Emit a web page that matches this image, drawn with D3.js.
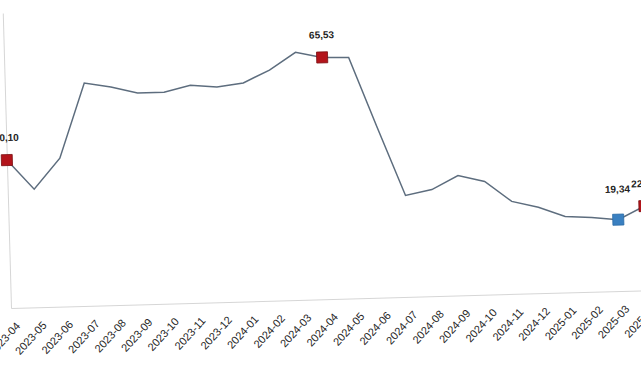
<html>
<head>
<meta charset="utf-8">
<script src="https://d3js.org/d3.v7.min.js"></script>
<style>
  body { margin: 0; background: #fff; }
  .tick text { font-family: "Liberation Sans", Arial, sans-serif; font-size: 11px; fill: #262626; }
  .val { font-family: "Liberation Sans", Arial, sans-serif; font-size: 10px; font-weight: bold; fill: #222; }
</style>
</head>
<body>
<svg class="chart" width="641" height="380"></svg>
<script>
// monthly values
var months = ["2023-04","2023-05","2023-06","2023-07","2023-08","2023-09","2023-10","2023-11","2023-12",
              "2024-01","2024-02","2024-03","2024-04","2024-05","2024-06","2024-07","2024-08","2024-09",
              "2024-10","2024-11","2024-12","2025-01","2025-02","2025-03","2025-04"];
var values = [40.10, 32.0, 40.2, 60.4, 59.1, 57.3, 57.3, 59.0, 58.3,
              59.2, 62.5, 67.1, 65.53, 65.3, 46.2, 27.5, 28.9, 32.5,
              30.7, 25.1, 23.3, 20.6, 20.1, 19.34, 22.83];
// labelled points
var markMonths = ["2023-04", "2024-04", "2025-03", "2025-04"];
var markKinds  = ["high", "high", "low", "high"];
var markLabels = ["40,10", "65,53", "19,34", "22,83"];

var markStyle = {
  high: {fill: "#b3141b", stroke: "#7a0d10", lift: 19},
  low:  {fill: "#3a80c1", stroke: "#2a6aa6", lift: 27}
};

var data = months.map(function(m, i) { return {month: m, value: values[i]}; });

var x = d3.scalePoint().domain(months).range([0, 636]);
var y = d3.scaleLinear().domain([0, 80]).range([308, 12.8]);

// the whole plot sits a little tilted, like the source
var g = d3.select(".chart")
  .append("g")
  .attr("transform", "rotate(-1.6, 11, 308) translate(11,0)");

// y axis: only the line
g.append("g")
  .call(d3.axisLeft(y).ticks(0).tickSize(0).tickSizeOuter(0))
  .select(".domain").attr("stroke", "#d6d6d6");

// x axis
var xa = g.append("g")
  .attr("transform", "translate(0,308)")
  .call(d3.axisBottom(x).tickSize(0).tickSizeOuter(0));
xa.select(".domain").attr("stroke", "#d6d6d6");
xa.selectAll("text")
  .attr("x", 0).attr("y", 0).attr("dy", "0.35em")
  .attr("text-anchor", "end")
  .attr("transform", "translate(6,16) rotate(-46)");

// line
g.append("path")
  .datum(data)
  .attr("fill", "none")
  .attr("stroke", "#5d6d7e")
  .attr("stroke-width", 1.5)
  .attr("d", d3.line()
    .x(function(d) { return x(d.month); })
    .y(function(d) { return y(d.value); }));

// markers + labels
var marks = markMonths.map(function(m, i) {
  return {month: m, value: values[months.indexOf(m)], kind: markKinds[i], label: markLabels[i]};
});

g.selectAll(".mk").data(marks).enter()
  .append("rect")
    .attr("class", "mk")
    .attr("x", function(d) { return x(d.month) - 5.5; })
    .attr("y", function(d) { return y(d.value) - 5.5; })
    .attr("width", 11).attr("height", 11)
    .attr("fill", function(d) { return markStyle[d.kind].fill; })
    .attr("stroke", function(d) { return markStyle[d.kind].stroke; })
    .attr("stroke-width", 0.8);

g.selectAll(".val").data(marks).enter()
  .append("text")
    .attr("class", "val")
    .attr("text-anchor", "middle")
    .attr("x", function(d) { return x(d.month); })
    .attr("y", function(d) { return y(d.value) - markStyle[d.kind].lift; })
    .text(function(d) { return d.label; });
</script>
</body>
</html>
